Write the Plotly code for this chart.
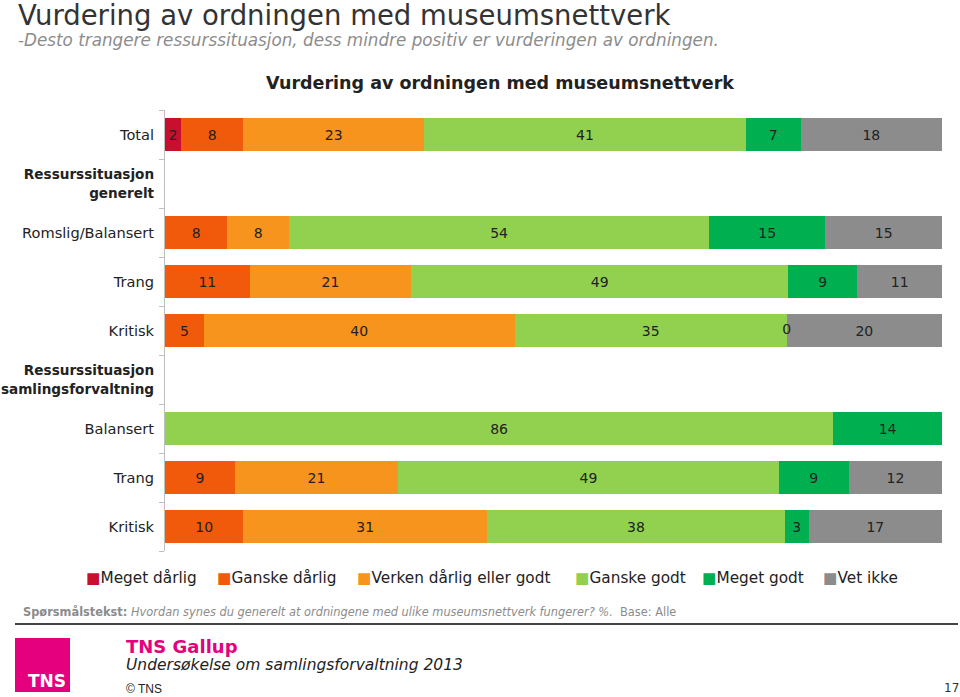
import plotly.graph_objects as go

# ---- data ----
row_ids = ["total", "h1", "g_romslig", "g_trang", "g_kritisk", "h2", "s_balansert", "s_trang", "s_kritisk"]
row_labels = ["Total",
              "<span style='font-size:13.6px'><b>Ressurssituasjon<br>generelt</b></span>",
              "Romslig/Balansert", "Trang", "Kritisk",
              "<span style='font-size:13.6px'><b>Ressurssituasjon<br>samlingsforvaltning</b></span>",
              "Balansert", "Trang", "Kritisk"]

series_names = ["Meget dårlig", "Ganske dårlig", "Verken dårlig eller godt",
                "Ganske godt", "Meget godt", "Vet ikke"]
meget_darlig  = [2, None, None, None, None, None, None, None, None]
ganske_darlig = [8, None, 8, 11, 5, None, None, 9, 10]
verken        = [23, None, 8, 21, 40, None, None, 21, 31]
ganske_godt   = [41, None, 54, 49, 35, None, 86, 49, 38]
meget_godt    = [7, None, 15, 9, 0, None, 14, 9, 3]
vet_ikke      = [18, None, 15, 11, 20, None, None, 12, 17]

colors = ["#C8102E", "#F05A0A", "#F7941E", "#92D050", "#00B050", "#8C8C8C"]

all_series = [meget_darlig, ganske_darlig, verken, ganske_godt, meget_godt, vet_ikke]

FONT = "DejaVu Sans"
W, H = 960, 697
ML, MR, MT, MB = 165, 18, 110, 146
PW, PH = W - ML - MR, H - MT - MB


def px(xp):
    return (xp - ML) / PW


def py(yp):
    return (H - MB - yp) / PH


fig = go.Figure()
for name, vals, col in zip(series_names, all_series, colors):
    texts = [("" if v is None or v == 0 else str(v)) for v in vals]
    fig.add_trace(go.Bar(
        name=name, y=row_ids, x=vals,
        orientation="h", marker=dict(color=col, line=dict(width=0)),
        text=texts, textposition="inside", insidetextanchor="middle",
        textangle=0, textfont=dict(family=FONT, size=14, color="#222222"),
        constraintext="none", showlegend=False,
    ))

# zero-valued labels drawn at their stacked position (normalized to percent)
zx, zy, zt = [], [], []
for i, rid in enumerate(row_ids):
    vals = [s[i] for s in all_series]
    tot = sum(v for v in vals if v is not None)
    if tot == 0:
        continue
    cum = 0
    for v in vals:
        if v is None:
            continue
        if v == 0:
            zx.append(cum / tot * 100)
            zy.append(rid)
            zt.append("0")
        cum += v
fig.add_trace(go.Scatter(x=zx, y=zy, mode="text", text=zt,
                         textfont=dict(family=FONT, size=14, color="#222222"),
                         showlegend=False, hoverinfo="skip"))

fig.update_layout(
    barmode="stack", barnorm="percent", bargap=0.34,
    width=W, height=H,
    margin=dict(l=ML, r=MR, t=MT, b=MB, autoexpand=False),
    paper_bgcolor="white", plot_bgcolor="white",
    font=dict(family=FONT, size=14, color="#222222"),
    showlegend=False,
    title=dict(text="<b>Vurdering av ordningen med museumsnettverk</b>",
               x=500 / W, xanchor="center", y=1 - 83 / H, yanchor="middle",
               font=dict(family=FONT, size=17.5, color="#222222")),
)
fig.update_xaxes(range=[0, 100], visible=False, fixedrange=True, automargin=False)
fig.update_yaxes(type="category", categoryorder="array", categoryarray=row_ids,
                 tickmode="array", tickvals=row_ids, ticktext=row_labels,
                 autorange="reversed", tickson="boundaries", automargin=False,
                 ticks="outside", ticklen=5, tickcolor="#BFBFBF",
                 showline=True, linecolor="#BFBFBF", linewidth=1,
                 showgrid=False, ticklabelstandoff=7, fixedrange=True,
                 tickfont=dict(family=FONT, size=14.6, color="#222222"))

# legend row (coloured squares + series names)
legend_x = [84, 215, 355, 573, 700, 821]
for n, c, lx in zip(series_names, colors, legend_x):
    fig.add_annotation(text=f"<span style='color:{c}'>■</span>{n}", xref="paper", yref="paper",
                       x=px(lx), y=py(578), xanchor="left", yanchor="middle",
                       showarrow=False, font=dict(family=FONT, size=15.3, color="#222222"))

fig.add_annotation(text="Vurdering av ordningen med museumsnettverk",
                   xref="paper", yref="paper", x=px(16), y=py(15),
                   xanchor="left", yanchor="middle", showarrow=False,
                   font=dict(family=FONT, size=27.5, color="#333333"))
fig.add_annotation(text="<i>-Desto trangere ressurssituasjon, dess mindre positiv er vurderingen av ordningen.</i>",
                   xref="paper", yref="paper", x=px(16), y=py(40),
                   xanchor="left", yanchor="middle", showarrow=False,
                   font=dict(family=FONT, size=16.8, color="#8C8C8C"))
fig.add_annotation(text="<b>Spørsmålstekst:</b> <i>Hvordan synes du generelt at ordningene med ulike museumsnettverk fungerer? %.</i>  Base: Alle",
                   xref="paper", yref="paper", x=px(21), y=py(612),
                   xanchor="left", yanchor="middle", showarrow=False,
                   font=dict(family=FONT, size=11.4, color="#8C8C8C"))
# footer separator line
fig.add_shape(type="line", xref="paper", yref="paper",
              x0=px(15), x1=px(958), y0=py(624), y1=py(624),
              line=dict(color="#444444", width=2))
# TNS logo box
fig.add_shape(type="rect", xref="paper", yref="paper",
              x0=px(15), x1=px(70), y0=py(692), y1=py(638),
              fillcolor="#E5007E", line=dict(width=0))
fig.add_annotation(text="<b>TNS</b>", xref="paper", yref="paper",
                   x=px(47), y=py(681), xanchor="center", yanchor="middle",
                   showarrow=False, font=dict(family=FONT, size=17, color="white"))
fig.add_annotation(text="<b>TNS Gallup</b>", xref="paper", yref="paper",
                   x=px(124), y=py(646), xanchor="left", yanchor="middle",
                   showarrow=False, font=dict(family=FONT, size=18, color="#E5007E"))
fig.add_annotation(text="<i>Undersøkelse om samlingsforvaltning 2013</i>", xref="paper", yref="paper",
                   x=px(124), y=py(665), xanchor="left", yanchor="middle",
                   showarrow=False, font=dict(family=FONT, size=15.5, color="#222222"))
fig.add_annotation(text="© TNS", xref="paper", yref="paper",
                   x=px(124), y=py(689), xanchor="left", yanchor="middle",
                   showarrow=False, font=dict(family="Liberation Sans", size=12, color="#222222"))
fig.add_annotation(text="17", xref="paper", yref="paper",
                   x=px(951), y=py(688), xanchor="center", yanchor="middle",
                   showarrow=False, font=dict(family=FONT, size=12, color="#333333"))

fig.write_html("out.html", config={"displayModeBar": False},
               post_script="document.body.style.margin='0';document.body.style.overflow='hidden';")
